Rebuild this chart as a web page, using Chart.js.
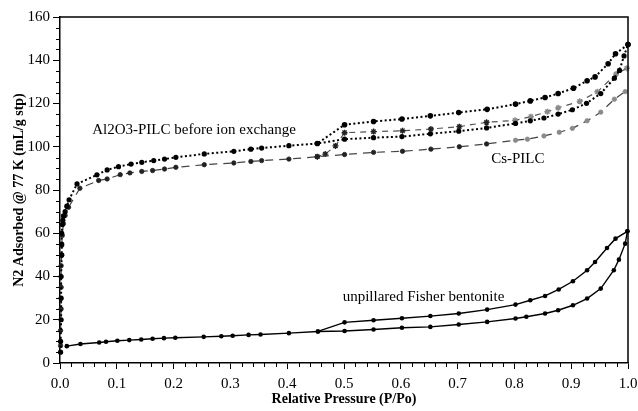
<!DOCTYPE html>
<html>
<head>
<meta charset="utf-8">
<script src="https://cdn.jsdelivr.net/npm/chart.js@4.4.1/dist/chart.umd.min.js"></script>
<style>
  html, body { margin: 0; padding: 0; background: #fff; }
</style>
</head>
<body>
<canvas id="isotherm" width="638" height="411"></canvas>
<script>
// N2 isotherms at 77 K

// Al2O3-PILC before ion exchange, adsorption branch
const alAdsX = [0.001, 0.001, 0.002, 0.002, 0.002, 0.003, 0.003, 0.003, 0.004, 0.005, 0.006, 0.009, 0.012, 0.016, 0.030,
  0.065, 0.083, 0.103, 0.125, 0.144, 0.165, 0.184, 0.204, 0.254, 0.306, 0.336, 0.355, 0.403, 0.453,
  0.501, 0.552, 0.602, 0.652, 0.702, 0.751, 0.802, 0.828, 0.852, 0.877, 0.902, 0.927, 0.952, 0.976, 0.985, 0.993, 1.0];
const alAdsY = [5, 10, 20, 30, 40, 50, 55, 60, 64, 66, 68, 70, 72.5, 75.5, 82.8,
  87, 89.3, 90.8, 92, 92.8, 93.6, 94.3, 95.1, 96.7, 97.9, 98.9, 99.4, 100.5, 101.5,
  103.5, 104.2, 104.7, 106.0, 107.2, 108.7, 110.8, 112.0, 113.3, 115.1, 117.1, 120.1, 124.6, 131.7, 135.3, 142, 147.3];

// Al2O3-PILC, desorption branch
const alDesX = [1.0, 0.978, 0.965, 0.942, 0.928, 0.904, 0.877, 0.854, 0.828, 0.802, 0.752, 0.702, 0.652, 0.602, 0.552, 0.501, 0.453];
const alDesY = [147.3, 143, 138.4, 132.3, 130.5, 127.1, 124.6, 122.8, 121.2, 119.7, 117.3, 115.8, 114.3, 112.8, 111.7, 110.2, 101.5];

// Cs-PILC, adsorption branch
const csAdsX = [0.001, 0.001, 0.002, 0.002, 0.002, 0.003, 0.003, 0.004, 0.006, 0.009, 0.015, 0.035,
  0.068, 0.083, 0.106, 0.123, 0.144, 0.163, 0.184, 0.204, 0.254, 0.306, 0.336, 0.355, 0.403, 0.453,
  0.501, 0.552, 0.603, 0.653, 0.703, 0.751, 0.802, 0.823, 0.852, 0.879, 0.902, 0.928, 0.952, 0.976, 0.995];
const csAdsY = [8, 15, 25, 35, 45, 49.8, 54.4, 59, 64.4, 68.2, 72, 80.8,
  84.4, 85.1, 87.1, 87.9, 88.6, 89, 89.7, 90.5, 91.7, 92.5, 93.2, 93.6, 94.3, 95.4,
  96.4, 97.4, 97.9, 98.9, 100, 101.3, 103, 103.5, 105, 106.7, 108.5, 112, 116, 122, 125.5];

// Cs-PILC, desorption branch
const csDesX = [0.998, 0.979, 0.946, 0.915, 0.877, 0.858, 0.829, 0.801, 0.751, 0.703, 0.653, 0.603, 0.552, 0.501, 0.485, 0.467, 0.453];
const csDesY = [136.3, 133.6, 125.4, 121, 118, 116.2, 113.9, 112.2, 111.3, 109.3, 108.2, 107.4, 107, 106.5, 100.4, 96.6, 95.4];

// unpillared Fisher bentonite, adsorption branch
const fbAdsX = [0.012, 0.036, 0.069, 0.081, 0.101, 0.122, 0.143, 0.163, 0.183, 0.203, 0.253, 0.284, 0.304, 0.332, 0.353, 0.403, 0.454,
  0.501, 0.552, 0.602, 0.652, 0.702, 0.752, 0.802, 0.821, 0.854, 0.877, 0.903, 0.928, 0.952, 0.975, 0.984, 0.995, 0.999];
const fbAdsY = [7.8, 8.8, 9.5, 9.8, 10.3, 10.6, 10.9, 11.2, 11.5, 11.7, 12.1, 12.4, 12.6, 13, 13.2, 13.8, 14.6,
  14.8, 15.5, 16.3, 16.7, 17.8, 19, 20.6, 21.4, 22.9, 24.4, 26.7, 29.8, 34.4, 42.9, 47.8, 55.2, 60.9];

// unpillared Fisher bentonite, desorption branch
const fbDesX = [0.999, 0.978, 0.963, 0.942, 0.928, 0.903, 0.878, 0.854, 0.828, 0.802, 0.752, 0.702, 0.652, 0.602, 0.552, 0.501, 0.454];
const fbDesY = [60.9, 57.5, 53.2, 46.7, 42.9, 37.8, 34, 31, 29, 27, 24.7, 22.9, 21.7, 20.7, 19.8, 18.8, 14.6];

const yTicks = [0, 20, 40, 60, 80, 100, 120, 140, 160];
const xTicks = [0, 0.1, 0.2, 0.3, 0.4, 0.5, 0.6, 0.7, 0.8, 0.9, 1.0];

const curveLabels = [
  { text: 'Al2O3-PILC before ion exchange', x: 0.236, y: 107.9 },
  { text: 'Cs-PILC', x: 0.806, y: 94.5 },
  { text: 'unpillared Fisher bentonite', x: 0.64, y: 30.4 }
];

const SERIF = '"Liberation Serif", "DejaVu Serif", serif';

function pts(xs, ys) {
  return xs.map((x, i) => ({ x, y: ys[i] }));
}

// gray marks at the high-pressure end of the Cs curves, as in the scan
const csColor = ctx => (ctx.raw && ctx.raw.x > 0.78 ? '#8a8a8a' : '#222');

// minor ticks, top/right frame and curve labels
const extras = {
  id: 'extras',
  afterDraw(chart) {
    const { ctx, chartArea: a, scales: { x, y } } = chart;
    ctx.save();
    ctx.strokeStyle = '#000';
    ctx.lineWidth = 1;
    ctx.beginPath();
    for (let v = 5; v < 160; v += 5) {
      if (v % 20 === 0) continue;
      const py = Math.round(y.getPixelForValue(v)) + 0.5;
      ctx.moveTo(a.left - 4, py);
      ctx.lineTo(a.left, py);
    }
    for (let i = 1; i < 50; i++) {
      if (i % 5 === 0) continue;
      const px = Math.round(x.getPixelForValue(i * 0.02)) + 0.5;
      ctx.moveTo(px, a.bottom);
      ctx.lineTo(px, a.bottom + 4);
    }
    ctx.stroke();

    ctx.lineWidth = 1.5;
    ctx.beginPath();
    ctx.moveTo(a.left, a.top);
    ctx.lineTo(a.right, a.top);
    ctx.lineTo(a.right, a.bottom);
    ctx.stroke();

    ctx.fillStyle = '#000';
    ctx.font = '15px ' + SERIF;
    ctx.textAlign = 'center';
    ctx.textBaseline = 'middle';
    curveLabels.forEach(l => {
      ctx.fillText(l.text, x.getPixelForValue(l.x), y.getPixelForValue(l.y));
    });
    ctx.restore();
  }
};

new Chart(document.getElementById('isotherm'), {
  type: 'scatter',
  data: {
    datasets: [
      {
        label: 'Al2O3-PILC ads',
        data: pts(alAdsX, alAdsY),
        showLine: true,
        borderColor: '#000',
        borderWidth: 2,
        borderDash: [2, 2.5],
        pointRadius: 2.6,
        pointBackgroundColor: '#000',
        pointBorderWidth: 0
      },
      {
        label: 'Al2O3-PILC des',
        data: pts(alDesX, alDesY),
        showLine: true,
        borderColor: '#000',
        borderWidth: 2,
        borderDash: [2, 2.5],
        pointRadius: 2.8,
        pointBackgroundColor: '#000',
        pointBorderWidth: 0
      },
      {
        label: 'Cs-PILC ads',
        data: pts(csAdsX, csAdsY),
        showLine: true,
        borderColor: '#444',
        borderWidth: 1.2,
        borderDash: [8, 6],
        pointRadius: 2.2,
        pointBackgroundColor: csColor,
        pointBorderColor: csColor,
        pointBorderWidth: 0.8
      },
      {
        label: 'Cs-PILC des',
        data: pts(csDesX, csDesY),
        showLine: true,
        borderColor: '#555',
        borderWidth: 1.2,
        borderDash: [6, 5],
        pointStyle: 'star',
        pointRadius: 3,
        pointBorderColor: csColor,
        pointBorderWidth: 1.4
      },
      {
        label: 'Fisher ads',
        data: pts(fbAdsX, fbAdsY),
        showLine: true,
        borderColor: '#000',
        borderWidth: 1.4,
        pointRadius: 2.3,
        pointBackgroundColor: '#000',
        pointBorderWidth: 0
      },
      {
        label: 'Fisher des',
        data: pts(fbDesX, fbDesY),
        showLine: true,
        borderColor: '#000',
        borderWidth: 1.4,
        pointRadius: 2.3,
        pointBackgroundColor: '#000',
        pointBorderWidth: 0
      }
    ]
  },
  options: {
    responsive: false,
    animation: false,
    devicePixelRatio: 1,
    clip: false,
    layout: { padding: { top: 17, right: 10, left: 0, bottom: 0 } },
    plugins: {
      legend: { display: false },
      tooltip: { enabled: false }
    },
    scales: {
      x: {
        type: 'linear',
        min: 0,
        max: 1,
        afterFit: s => { s.height = 48; s.paddingRight = 0; s.paddingLeft = 0; },
        afterBuildTicks: s => { s.ticks = xTicks.map(v => ({ value: v })); },
        ticks: {
          color: '#000',
          padding: 6,
          maxRotation: 0,
          font: { family: SERIF, size: 15 },
          callback: v => v.toFixed(1)
        },
        grid: { drawOnChartArea: false, tickLength: 6, color: '#000', tickColor: '#000' },
        border: { display: true, color: '#000', width: 1.5 },
        title: {
          display: true,
          text: 'Relative Pressure (P/Po)',
          color: '#000',
          padding: { top: 0, bottom: 3 },
          font: { family: SERIF, size: 14, weight: 'bold' }
        }
      },
      y: {
        type: 'linear',
        min: 0,
        max: 160,
        afterFit: s => { s.width = 60; },
        afterBuildTicks: s => { s.ticks = yTicks.map(v => ({ value: v })); },
        ticks: {
          color: '#000',
          padding: 3,
          font: { family: SERIF, size: 15 }
        },
        grid: { drawOnChartArea: false, tickLength: 7, color: '#000', tickColor: '#000' },
        border: { display: true, color: '#000', width: 1.5 },
        title: {
          display: true,
          text: 'N2 Adsorbed @ 77 K (mL/g stp)',
          color: '#000',
          padding: { top: 11, bottom: 0 },
          font: { family: SERIF, size: 14, weight: 'bold' }
        }
      }
    }
  },
  plugins: [extras]
});
</script>
</body>
</html>
